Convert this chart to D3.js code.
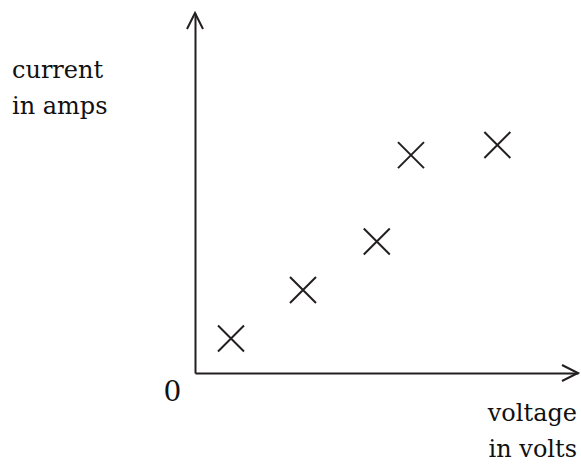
<!DOCTYPE html>
<html>
<head>
<meta charset="utf-8">
<script src="https://cdn.jsdelivr.net/npm/d3@7"></script>
<style>
  html, body { margin: 0; padding: 0; background: #fff; }
  svg { display: block; }
</style>
</head>
<body>
<svg id="chart" width="581" height="471"></svg>
<script>
// Data (arbitrary units, no scale marked)
const voltage = [1, 3, 5.05, 6, 8.4];
const current = [0.71, 1.71, 2.71, 4.49, 4.70];
const yLabel = ["current", "in amps"];
const xLabel = ["voltage", "in volts"];
const originLabel = "0";

const ink = "#231f20";
const serif = "'DejaVu Serif', serif";
const svg = d3.select("#chart");

const x = d3.scaleLinear().domain([0, 10.64]).range([195, 578]);
const y = d3.scaleLinear().domain([0, 7.42]).range([373, 13]);

// Axes (domain lines only, no ticks)
svg.append("g").attr("transform", `translate(0,${y(0)})`)
  .call(d3.axisBottom(x).tickValues([]).tickSizeOuter(0));
svg.append("g").attr("transform", `translate(${x(0)},0)`)
  .call(d3.axisLeft(y).tickValues([]).tickSizeOuter(0));
svg.selectAll(".domain").attr("stroke", ink).attr("stroke-width", 2);

// Arrow heads
const xEnd = x.range()[1], yEnd = y.range()[1];
svg.append("path")
  .attr("d", `M${xEnd - 16},${y(0) - 8}L${xEnd},${y(0)}L${xEnd - 16},${y(0) + 8}`)
  .attr("fill", "none").attr("stroke", ink).attr("stroke-width", 2);
svg.append("path")
  .attr("d", `M${x(0) - 8},${yEnd + 16}L${x(0)},${yEnd}L${x(0) + 8},${yEnd + 16}`)
  .attr("fill", "none").attr("stroke", ink).attr("stroke-width", 2);

// Cross markers
const pts = voltage.map((v, i) => ({ v, c: current[i] }));
const s = 13;
svg.append("g").selectAll("path").data(pts).join("path")
  .attr("d", d => {
    const cx = x(d.v), cy = y(d.c);
    return `M${cx - s},${cy - s}L${cx + s},${cy + s}M${cx - s},${cy + s}L${cx + s},${cy - s}`;
  })
  .attr("fill", "none").attr("stroke", ink).attr("stroke-width", 2);

// Labels
function addText(xp, yp, lines, anchor, fs) {
  svg.append("text")
    .attr("x", xp).attr("y", yp)
    .attr("font-family", serif).attr("font-size", fs)
    .attr("fill", "#111").attr("text-anchor", anchor)
    .selectAll("tspan").data(lines).join("tspan")
    .attr("x", xp).attr("dy", (d, i) => i === 0 ? 0 : 36).text(d => d);
}
addText(12, 78, yLabel, "start", 24);
addText(577, 421, xLabel, "end", 24);
addText(172.5, 401, [originLabel], "middle", 28);
</script>
</body>
</html>
